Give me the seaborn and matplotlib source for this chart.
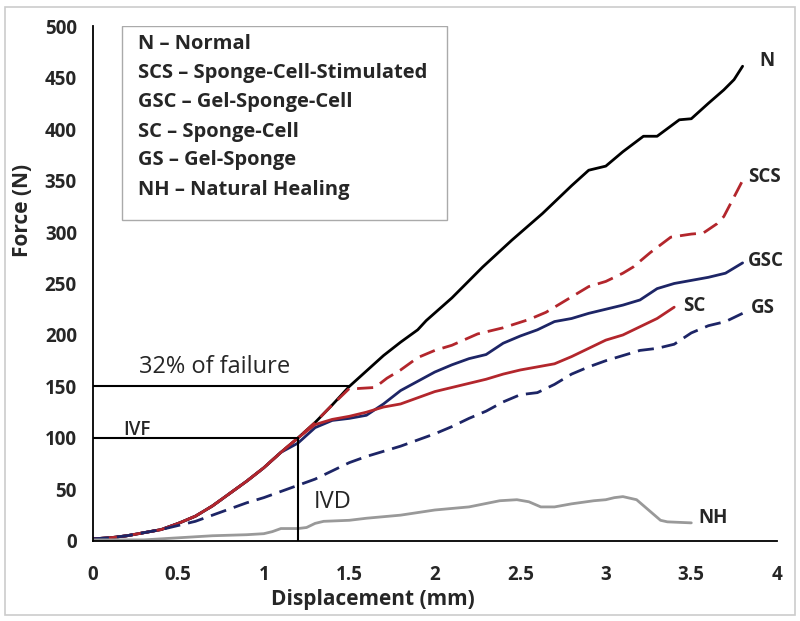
import numpy as np
import pandas as pd
import matplotlib.pyplot as plt
import matplotlib.patches as mpatches
import seaborn as sns

# shared start of the four upper curves (they overlap up to ~1.2 mm)
base_x = [0, 0.1, 0.2, 0.3, 0.4, 0.5, 0.6, 0.7, 0.8, 0.9, 1.0, 1.1, 1.2]
base_y = [2, 3, 5, 8, 11, 17, 24, 34, 46, 58, 71, 86, 100]

n_x = base_x + [1.3, 1.4, 1.5, 1.6, 1.7, 1.8, 1.9, 1.95, 2.1, 2.28, 2.45, 2.63,
                2.8, 2.9, 3.0, 3.1, 3.22, 3.3, 3.43, 3.5, 3.6, 3.69, 3.75, 3.8]
n_y = base_y + [115, 132, 150, 165, 180, 193, 205, 214, 236, 266, 292, 318,
                345, 360, 364, 378, 393, 393, 409, 410, 425, 438, 448, 461]

scs_x = base_x + [1.3, 1.4, 1.5, 1.55, 1.65, 1.72, 1.8, 1.9, 2.0, 2.1, 2.25, 2.4,
                  2.55, 2.65, 2.77, 2.9, 3.0, 3.1, 3.16, 3.26, 3.38, 3.5, 3.57,
                  3.65, 3.69, 3.75, 3.8]
scs_y = base_y + [115, 132, 148, 148, 149, 158, 166, 178, 185, 190, 201, 207,
                  215, 222, 234, 247, 252, 260, 266, 280, 295, 298, 299,
                  308, 315, 334, 350]

gsc_x = base_x[:-1] + [1.2, 1.3, 1.4, 1.5, 1.6, 1.7, 1.8, 1.9, 2.0, 2.1, 2.2, 2.3,
                       2.4, 2.5, 2.6, 2.7, 2.8, 2.9, 3.0, 3.1, 3.2, 3.3, 3.4,
                       3.5, 3.6, 3.7, 3.8]
gsc_y = base_y[:-1] + [95, 110, 117, 119, 122, 133, 146, 155, 164, 171, 177, 181,
                       192, 199, 205, 213, 216, 221, 225, 229, 234, 245, 250,
                       253, 256, 260, 270]

sc_x = base_x + [1.3, 1.4, 1.5, 1.6, 1.7, 1.8, 1.9, 2.0, 2.1, 2.2, 2.3, 2.4,
                 2.5, 2.6, 2.7, 2.8, 2.9, 3.0, 3.1, 3.2, 3.3, 3.4]
sc_y = base_y + [113, 118, 121, 125, 130, 133, 139, 145, 149, 153, 157, 162,
                 166, 169, 172, 179, 187, 195, 200, 208, 216, 227]

gs_x = [0, 0.1, 0.2, 0.3, 0.4, 0.5, 0.6, 0.7, 0.8, 0.9, 1.0, 1.1, 1.2, 1.3,
        1.4, 1.5, 1.6, 1.7, 1.8, 1.9, 2.0, 2.1, 2.2, 2.3, 2.4, 2.5, 2.6, 2.7,
        2.8, 2.9, 3.0, 3.1, 3.2, 3.3, 3.4, 3.5, 3.6, 3.7, 3.8]
gs_y = [2, 3, 5, 8, 11, 15, 19, 25, 31, 37, 42, 48, 54, 60,
        68, 76, 82, 87, 92, 98, 104, 111, 119, 126, 135, 142, 144, 152,
        162, 169, 175, 180, 185, 187, 191, 202, 209, 213, 221]

nh_x = [0, 0.3, 0.5, 0.7, 0.9, 1.0, 1.05, 1.1, 1.2, 1.25, 1.3, 1.35, 1.5, 1.6,
        1.8, 2.0, 2.2, 2.38, 2.48, 2.55, 2.62, 2.7, 2.8, 2.93, 3.0, 3.05, 3.1,
        3.18, 3.25, 3.32, 3.36, 3.5]
nh_y = [1, 1, 3, 5, 6, 7, 9, 12, 12, 13, 17, 19, 20, 22,
        25, 30, 33, 39, 40, 38, 33, 33, 36, 39, 40, 42, 43,
        40, 30, 20, 18.5, 17.5]

legend_lines = ["N \u2013 Normal",
                "SCS \u2013 Sponge-Cell-Stimulated",
                "GSC \u2013 Gel-Sponge-Cell",
                "SC \u2013 Sponge-Cell",
                "GS \u2013 Gel-Sponge",
                "NH \u2013 Natural Healing"]

sns.set_style("white")
plt.rcParams['font.family'] = ['Open Sans', 'DejaVu Sans']

red = "#b3262c"
navy = "#1d2566"

fig = plt.figure(figsize=(8, 6.21), dpi=100)
ax = fig.add_axes([0.116, 0.129, 0.855, 0.829])

series = [
    (n_x, n_y, "black", "-"),
    (scs_x, scs_y, red, (0, (5.8, 2.9))),
    (gsc_x, gsc_y, navy, "-"),
    (sc_x, sc_y, red, "-"),
    (gs_x, gs_y, navy, (0, (5.8, 2.9))),
    (nh_x, nh_y, "#999999", "-"),
]
for xs, ys, col, ls in series:
    df = pd.DataFrame({"x": xs, "y": ys})
    sns.lineplot(data=df, x="x", y="y", ax=ax, color=col, linestyle=ls,
                 linewidth=2, estimator=None, sort=False)

# reference lines
ax.plot([0, 1.5], [150, 150], color="black", lw=1.5)
ax.plot([0, 1.2], [100, 100], color="black", lw=1.5)
ax.plot([1.2, 1.2], [0, 100], color="black", lw=1.5)
ax.text(0.27, 169, "32% of failure", fontsize=17, va="center", ha="left")
ax.text(0.18, 108, "IVF", fontsize=13.5, va="center", ha="left", fontweight="semibold")
ax.text(1.29, 38, "IVD", fontsize=17, va="center", ha="left")

# end labels
for txt, x, y in [("N", 3.9, 466), ("SCS", 3.83, 353), ("GSC", 3.83, 272),
                  ("SC", 3.45, 228), ("GS", 3.85, 226), ("NH", 3.54, 22)]:
    ax.text(x, y, txt, fontsize=13.5, fontweight="bold", va="center", ha="left")

# legend box
ax.add_patch(mpatches.Rectangle((0.0424, 0.623), 0.4751, 0.377, transform=ax.transAxes,
                                facecolor="white", edgecolor="#aaaaaa", lw=1, zorder=3))
rows = [0.966, 0.908, 0.853, 0.795, 0.740, 0.681]
for line, ry in zip(legend_lines, rows):
    ax.text(0.0667, ry, line, transform=ax.transAxes, fontsize=14.5,
            fontweight="bold", va="center", ha="left", zorder=4)

ax.set_xlim(0, 4)
ax.set_ylim(0, 500)
ax.set_xticks(np.arange(0, 4.01, 0.5))
ax.set_xticklabels(["0", "0.5", "1", "1.5", "2", "2.5", "3", "3.5", "4"])
ax.set_yticks(np.arange(0, 501, 50))
for lab in ax.get_xticklabels() + ax.get_yticklabels():
    lab.set_fontweight("bold")
    lab.set_fontsize(13.5)
ax.tick_params(axis="both", direction="inout", length=7, width=1.3, color="black")
ax.tick_params(axis="x", pad=14)
ax.tick_params(axis="y", pad=8)

sns.despine(ax=ax)
for s in ["left", "bottom"]:
    ax.spines[s].set_color("black")
    ax.spines[s].set_linewidth(1.3)

ax.set_xlabel("Displacement (mm)", fontsize=15, fontweight="bold")
ax.set_ylabel("Force (N)", fontsize=15, fontweight="bold")
ax.xaxis.set_label_coords(0.41, -0.094)
ax.yaxis.set_label_coords(-0.088, 0.642)

# outer frame
fig.patches.append(mpatches.Rectangle((0.006, 0.01), 0.988, 0.979, transform=fig.transFigure,
                                      fill=False, edgecolor="#cccccc", lw=1.2))

fig.savefig("out.png", dpi=100)
